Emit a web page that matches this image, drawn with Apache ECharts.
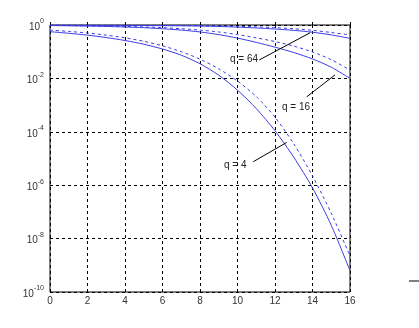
<!DOCTYPE html>
<html>
<head>
<meta charset="utf-8">
<script src="https://cdn.jsdelivr.net/npm/echarts@6/dist/echarts.min.js"></script>
<style>
  html, body { margin: 0; padding: 0; background: #fff; }
  #chart { width: 419px; height: 328px; }
</style>
</head>
<body>
<div id="chart"></div>
<script>
// x values (SNR) and log10 of the error probability
var xs = [0, 1, 2, 3, 4, 5, 6, 7, 8, 9, 10, 11, 12, 13, 14, 15, 16];
var q4Solid  = [-0.25, -0.31, -0.38, -0.47, -0.58, -0.72, -0.9, -1.13, -1.45, -1.88, -2.44, -3.13, -3.96, -4.95, -6.1, -7.5, -9.2];
var q4Dash   = [-0.19, -0.24, -0.3, -0.38, -0.48, -0.61, -0.78, -1.0, -1.28, -1.64, -2.1, -2.68, -3.45, -4.45, -5.65, -7.05, -8.65];
var q16Solid = [-0.02, -0.03, -0.04, -0.055, -0.075, -0.1, -0.14, -0.19, -0.26, -0.36, -0.49, -0.65, -0.83, -1.03, -1.27, -1.58, -2.0];
var q16Dash  = [-0.015, -0.02, -0.03, -0.04, -0.055, -0.075, -0.1, -0.14, -0.19, -0.26, -0.36, -0.48, -0.62, -0.79, -1.01, -1.3, -1.69];
var q64Solid = [-0.005, -0.007, -0.01, -0.012, -0.015, -0.02, -0.025, -0.03, -0.04, -0.055, -0.08, -0.11, -0.15, -0.2, -0.27, -0.37, -0.5];
var q64Dash  = [-0.003, -0.004, -0.005, -0.007, -0.01, -0.012, -0.015, -0.02, -0.025, -0.035, -0.05, -0.07, -0.1, -0.14, -0.2, -0.28, -0.37];

var xTicks = [0, 2, 4, 6, 8, 10, 12, 14, 16];
var yTicks = [0, -2, -4, -6, -8, -10];

// labels and their pointer lines, in data coordinates [x, log10 y]
var labelText = ['q = 64', 'q = 16', 'q = 4'];
var labelPos  = [[9.6, -1.3], [12.37, -3.07], [9.28, -5.24]];
var lineFrom  = [[11.16, -1.31], [13.69, -2.69], [10.84, -5.12]];
var lineTo    = [[13.87, -0.29], [15.2, -1.87], [12.62, -4.4]];

var myChart = echarts.init(document.getElementById('chart'));

function pairs(ys) {
    return xs.map(function (x, i) { return [x, ys[i]]; });
}

function curve(ys, dashed) {
    return {
        type: 'line',
        data: pairs(ys),
        showSymbol: false,
        smooth: 0.25,
        lineStyle: {
            color: '#3c3ce4',
            width: 1,
            type: dashed ? [3, 3] : 'solid'
        },
        z: 3
    };
}

var option = {
    animation: false,
    backgroundColor: '#fff',
    grid: {
        left: 50,
        right: 69,
        top: 25,
        bottom: 36,
        show: true,
        borderColor: '#000',
        borderWidth: 1,
        backgroundColor: 'transparent'
    },
    xAxis: {
        type: 'value',
        min: 0,
        max: 16,
        interval: 2,
        axisLine: { show: false },
        axisTick: { show: true, inside: true, length: 3, lineStyle: { color: '#000' } },
        axisLabel: {
            margin: 4,
            color: '#333',
            fontFamily: 'Liberation Sans',
            fontSize: 10,
            customValues: xTicks
        },
        splitLine: { show: true, lineStyle: { color: '#000', type: [3, 3], width: 1 } }
    },
    yAxis: {
        type: 'value',
        min: -10,
        max: 0,
        interval: 2,
        axisLine: { show: false },
        axisTick: { show: true, inside: true, length: 3, lineStyle: { color: '#000' } },
        axisLabel: {
            margin: 6,
            color: '#333',
            fontFamily: 'Liberation Sans',
            customValues: yTicks,
            formatter: function (v) {
                return '{b|10}{e|' + v + '}';
            },
            rich: {
                b: { fontSize: 10, fontFamily: 'Liberation Sans', color: '#333', verticalAlign: 'bottom', lineHeight: 14 },
                e: { fontSize: 7, fontFamily: 'Liberation Sans', color: '#333', verticalAlign: 'top', lineHeight: 14, padding: [0, 0, 6, 0] }
            }
        },
        splitLine: { show: true, lineStyle: { color: '#000', type: [3, 3], width: 1 } }
    },
    series: [
        curve(q4Solid, false),
        curve(q4Dash, true),
        curve(q16Solid, false),
        curve(q16Dash, true),
        curve(q64Solid, false),
        curve(q64Dash, true)
    ]
};

myChart.setOption(option);

// text labels with their pointer lines
var graphics = [];
labelText.forEach(function (t, i) {
    var p = myChart.convertToPixel({ gridIndex: 0 }, labelPos[i]);
    var a = myChart.convertToPixel({ gridIndex: 0 }, lineFrom[i]);
    var b = myChart.convertToPixel({ gridIndex: 0 }, lineTo[i]);
    graphics.push({
        type: 'text',
        x: p[0],
        y: p[1],
        z: 10,
        style: {
            text: t,
            fill: '#222',
            font: '10px "Liberation Sans"',
            verticalAlign: 'middle',
            align: 'left'
        }
    });
    graphics.push({
        type: 'line',
        z: 10,
        shape: { x1: a[0], y1: a[1], x2: b[0], y2: b[1] },
        style: { stroke: '#000', lineWidth: 1 }
    });
});
// stray short dash at the lower right of the figure
graphics.push({
    type: 'line',
    shape: { x1: 409, y1: 281, x2: 419, y2: 281 },
    style: { stroke: '#000', lineWidth: 1 }
});

myChart.setOption({ graphic: graphics });
</script>
</body>
</html>
